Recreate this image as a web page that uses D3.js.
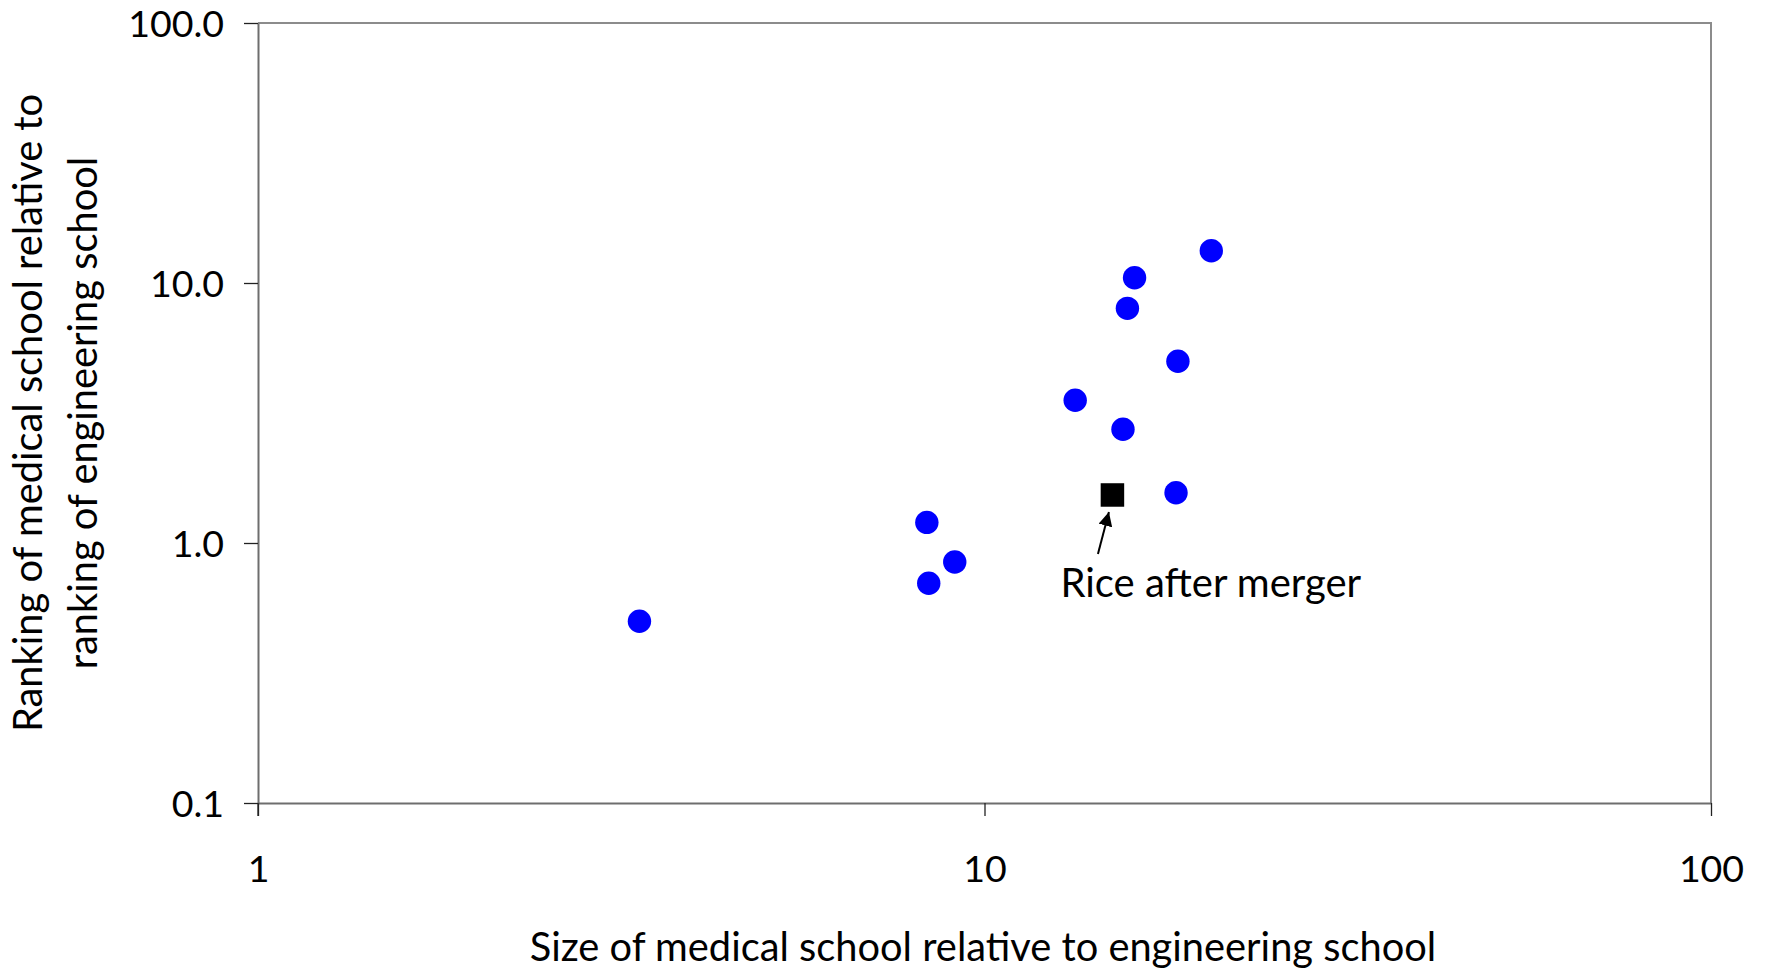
<!DOCTYPE html>
<html>
<head>
<meta charset="utf-8">
<script src="https://cdn.jsdelivr.net/npm/d3@7"></script>
<style>
  html, body { margin: 0; padding: 0; background: #fff; }
  svg { display: block; }
  text { font-family: Lato, "Open Sans", sans-serif; fill: #000; }
</style>
</head>
<body>
<svg id="chart" width="1767" height="972"></svg>
<script>
// ---- data ----
const schoolSize = [3.35, 8.33, 8.38, 9.10, 13.33, 15.51, 15.73, 16.09, 18.46, 18.35, 20.52];
const schoolRank = [0.50, 1.20, 0.70, 0.845, 3.54, 2.74, 7.99, 10.48, 5.00, 1.56, 13.31];
const riceSize = [15.0];
const riceRank = [1.53];
const riceLabel = ["Rice after merger"];
const xTicks = [1, 10, 100];
const xTickLabels = ["1", "10", "100"];
const yTicks = [0.1, 1, 10, 100];
const yTickLabels = ["0.1", "1.0", "10.0", "100.0"];
const xTitle = "Size of medical school relative to engineering school";
const yTitleLines = ["Ranking of medical school relative to", "ranking of engineering school"];

// ---- layout ----
const W = 1767, H = 972;
const L = 258, R = 1711, T = 23, B = 803;
const svg = d3.select("#chart");

const x = d3.scaleLog().domain([1, 100]).range([L, R]);
const y = d3.scaleLog().domain([0.1, 100]).range([B, T]);

// frame (top and right)
svg.append("path")
  .attr("d", `M${L},${T}H${R}V${B}`)
  .attr("fill", "none").attr("stroke", "#8c8c8c").attr("stroke-width", 2);

// x axis
const xAxis = d3.axisBottom(x).tickValues(xTicks)
  .tickFormat((d, i) => xTickLabels[i]).tickSize(13).tickSizeOuter(0);
const gx = svg.append("g").attr("transform", `translate(0,${B})`).call(xAxis);
gx.select(".domain").attr("stroke", "#6e6e6e").attr("stroke-width", 2);
gx.selectAll(".tick line").attr("stroke", "#222").attr("stroke-width", 1.3);
gx.selectAll(".tick text")
  .attr("y", 79).attr("dy", 0)
  .style("font-size", "37.5px").style("font-family", "Lato, sans-serif").attr("fill", "#000");

// y axis
const yAxis = d3.axisLeft(y).tickValues(yTicks)
  .tickFormat((d, i) => yTickLabels[i]).tickSize(14).tickSizeOuter(0);
const gy = svg.append("g").attr("transform", `translate(${L},0)`).call(yAxis);
gy.select(".domain").attr("stroke", "#6e6e6e").attr("stroke-width", 2);
gy.selectAll(".tick line").attr("stroke", "#222").attr("stroke-width", 1.3);
gy.selectAll(".tick text")
  .attr("x", -34).attr("dy", "0.36em")
  .style("font-size", "37.5px").style("font-family", "Lato, sans-serif").attr("fill", "#000");

// extend left axis below bottom axis (tick at x=1)
gy.append("line").attr("x1", 0).attr("x2", 0).attr("y1", B).attr("y2", B + 13)
  .attr("stroke", "#222").attr("stroke-width", 1.3);

// points
const pts = schoolSize.map((s, i) => ({ s, r: schoolRank[i] }));
svg.append("g").selectAll("circle").data(pts).join("circle")
  .attr("cx", d => x(d.s)).attr("cy", d => y(d.r)).attr("r", 11.7)
  .attr("fill", "#0000ff");

// Rice after merger
const rice = riceSize.map((s, i) => ({ s, r: riceRank[i], label: riceLabel[i] }));
const sq = 23.5;
svg.append("g").selectAll("rect").data(rice).join("rect")
  .attr("x", d => x(d.s) - sq / 2).attr("y", d => y(d.r) - sq / 2)
  .attr("width", sq).attr("height", sq).attr("fill", "#000");

// arrow marker
svg.append("defs").append("marker")
  .attr("id", "arrow").attr("viewBox", "0 0 10 10")
  .attr("refX", 10).attr("refY", 5)
  .attr("markerWidth", 14).attr("markerHeight", 14)
  .attr("markerUnits", "userSpaceOnUse")
  .attr("orient", "auto")
  .append("path").attr("d", "M0,0L10,5L0,10Z").attr("fill", "#000");

svg.append("g").selectAll("line").data(rice).join("line")
  .attr("x1", d => x(d.s) - 14.5).attr("y1", d => y(d.r) + 59)
  .attr("x2", d => x(d.s) - 3.5).attr("y2", d => y(d.r) + 17)
  .attr("stroke", "#000").attr("stroke-width", 2)
  .attr("marker-end", "url(#arrow)");

svg.append("g").selectAll("text").data(rice).join("text")
  .attr("x", d => x(d.s) - 52).attr("y", d => y(d.r) + 102)
  .style("font-size", "40px")
  .text(d => d.label);

// x title
svg.append("text")
  .attr("x", 983).attr("y", 961)
  .attr("text-anchor", "middle")
  .style("font-size", "39.8px")
  .text(xTitle);

// y title
const yc = (T + B) / 2;
const yBase = [41.5, 97];
yTitleLines.forEach((line, i) => {
  svg.append("text")
    .attr("transform", `translate(${yBase[i]},${yc}) rotate(-90)`)
    .attr("text-anchor", "middle")
    .style("font-size", "39.8px")
    .text(line);
});
</script>
</body>
</html>
